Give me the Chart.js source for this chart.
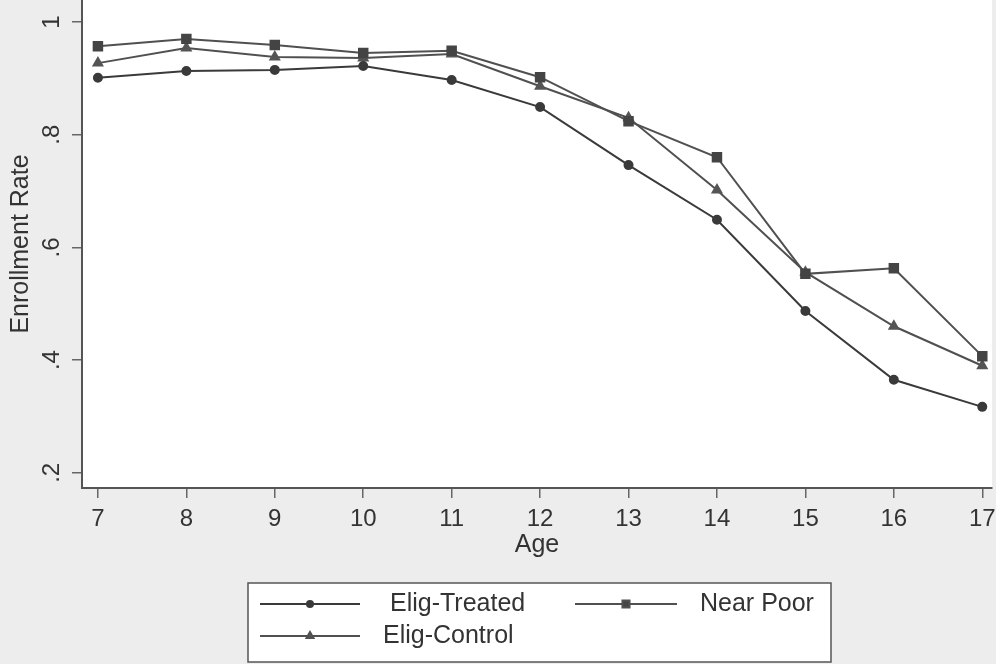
<!DOCTYPE html>
<html>
<head>
<meta charset="utf-8">
<script src="https://cdn.jsdelivr.net/npm/chart.js@4.4.1/dist/chart.umd.min.js"></script>
<style>
  html, body { margin: 0; padding: 0; background: #ededed; }
  #wrap { width: 996px; height: 664px; }
</style>
</head>
<body>
<div id="wrap"><canvas id="chart" width="996" height="664"></canvas></div>
<script>
// Leeftijden en inschrijvingsgraad per groep
const ages = [7, 8, 9, 10, 11, 12, 13, 14, 15, 16, 17];
const eligTreated = [0.901, 0.913, 0.915, 0.922, 0.897, 0.849, 0.746, 0.649, 0.487, 0.365, 0.317];
const nearPoor    = [0.957, 0.970, 0.959, 0.945, 0.949, 0.902, 0.824, 0.760, 0.553, 0.563, 0.407];
const eligControl = [0.927, 0.954, 0.938, 0.936, 0.943, 0.886, 0.830, 0.702, 0.556, 0.460, 0.390];

const yTicks = [0.2, 0.4, 0.6, 0.8, 1];
const yTickLabels = [".2", ".4", ".6", ".8", "1"];

const FONT = "'Liberation Sans', Arial, sans-serif";

function toPoints(values) {
  return ages.map((a, i) => ({ x: a, y: values[i] }));
}

// Achtergrond: grijs buiten, wit plotgebied
const backgroundPlugin = {
  id: "bg",
  beforeDraw(chart) {
    const { ctx, chartArea } = chart;
    ctx.save();
    ctx.fillStyle = "#ededed";
    ctx.fillRect(0, 0, chart.width, chart.height);
    ctx.fillStyle = "#ffffff";
    ctx.fillRect(chartArea.left, 0, chartArea.right - chartArea.left, chartArea.bottom);
    ctx.restore();
  }
};

// Stata-achtige legenda in een kader onder de grafiek
const legendPlugin = {
  id: "stataLegend",
  afterDraw(chart) {
    const ctx = chart.ctx;
    const ds = chart.data.datasets;
    const entries = [
      { d: ds[0], x0: 260, x1: 360, tx: 390, y: 604 },
      { d: ds[1], x0: 575, x1: 677, tx: 700, y: 604 },
      { d: ds[2], x0: 260, x1: 360, tx: 383, y: 636 }
    ];
    ctx.save();
    ctx.fillStyle = "#ffffff";
    ctx.fillRect(248, 583, 583, 79);
    ctx.strokeStyle = "#555";
    ctx.lineWidth = 1.5;
    ctx.strokeRect(248, 583, 583, 79);
    entries.forEach(e => {
      ctx.strokeStyle = e.d.borderColor;
      ctx.lineWidth = 2;
      ctx.beginPath();
      ctx.moveTo(e.x0, e.y);
      ctx.lineTo(e.x1, e.y);
      ctx.stroke();
      ctx.fillStyle = e.d.pointBackgroundColor;
      Chart.helpers.drawPoint(ctx, {
        pointStyle: e.d.pointStyle,
        radius: e.d.pointRadius - 1,
        rotation: 0,
        borderWidth: 1
      }, (e.x0 + e.x1) / 2, e.y);
      ctx.fillStyle = "#333";
      ctx.font = "25px " + FONT;
      ctx.textBaseline = "middle";
      ctx.textAlign = "left";
      ctx.fillText(e.d.label, e.tx, e.y);
    });
    ctx.restore();
  }
};

const ctx = document.getElementById("chart").getContext("2d");

new Chart(ctx, {
  type: "line",
  data: {
    datasets: [
      {
        label: "Elig-Treated",
        data: toPoints(eligTreated),
        borderColor: "#3a3a3a",
        pointBackgroundColor: "#3a3a3a",
        pointBorderColor: "#3a3a3a",
        pointStyle: "circle",
        pointRadius: 4,
        borderWidth: 2
      },
      {
        label: "Near Poor",
        data: toPoints(nearPoor),
        borderColor: "#505050",
        pointBackgroundColor: "#444",
        pointBorderColor: "#444",
        pointStyle: "rect",
        pointRadius: 6,
        borderWidth: 2
      },
      {
        label: "Elig-Control",
        data: toPoints(eligControl),
        borderColor: "#505050",
        pointBackgroundColor: "#555",
        pointBorderColor: "#555",
        pointStyle: "triangle",
        pointRadius: 5,
        borderWidth: 2
      }
    ]
  },
  options: {
    responsive: false,
    animation: false,
    devicePixelRatio: 1,
    layout: { autoPadding: false, padding: { top: 0, right: 4, bottom: 106, left: 0 } },
    plugins: {
      legend: { display: false },
      tooltip: { enabled: false }
    },
    scales: {
      x: {
        type: "linear",
        min: 6.82,
        max: 17.11,
        afterBuildTicks: s => { s.ticks = ages.map(v => ({ value: v })); },
        afterFit: s => {
          s.height = 70;
          s.paddingLeft = 0;
          s.paddingRight = 0;
          s.paddingTop = 0;
          s.paddingBottom = 0;
        },
        ticks: {
          autoSkip: false,
          maxRotation: 0,
          padding: 7,
          color: "#333",
          font: { family: FONT, size: 24 },
          callback: v => String(v)
        },
        grid: { drawOnChartArea: false, tickLength: 10, color: "#666", lineWidth: 1.5 },
        border: { color: "#555", width: 2 },
        title: {
          display: true,
          text: "Age",
          color: "#333",
          font: { family: FONT, size: 25, lineHeight: 1 },
          padding: 0
        }
      },
      y: {
        min: 0.173,
        max: 1.039,
        afterBuildTicks: s => { s.ticks = yTicks.map(v => ({ value: v })); },
        afterFit: s => {
          s.width = 82;
          s.paddingLeft = 0;
          s.paddingRight = 0;
          s.paddingTop = 0;
          s.paddingBottom = 0;
        },
        ticks: {
          minRotation: 90,
          maxRotation: 90,
          crossAlign: "center",
          padding: 10,
          color: "#333",
          font: { family: FONT, size: 24 },
          callback: (v, i) => yTickLabels[i]
        },
        grid: { drawOnChartArea: false, tickLength: 10, color: "#666", lineWidth: 1.5 },
        border: { color: "#555", width: 2 },
        title: {
          display: true,
          text: "Enrollment Rate",
          color: "#333",
          font: { family: FONT, size: 25, lineHeight: 1 },
          padding: { top: 9, bottom: 0 }
        }
      }
    }
  },
  plugins: [backgroundPlugin, legendPlugin]
});
</script>
</body>
</html>
